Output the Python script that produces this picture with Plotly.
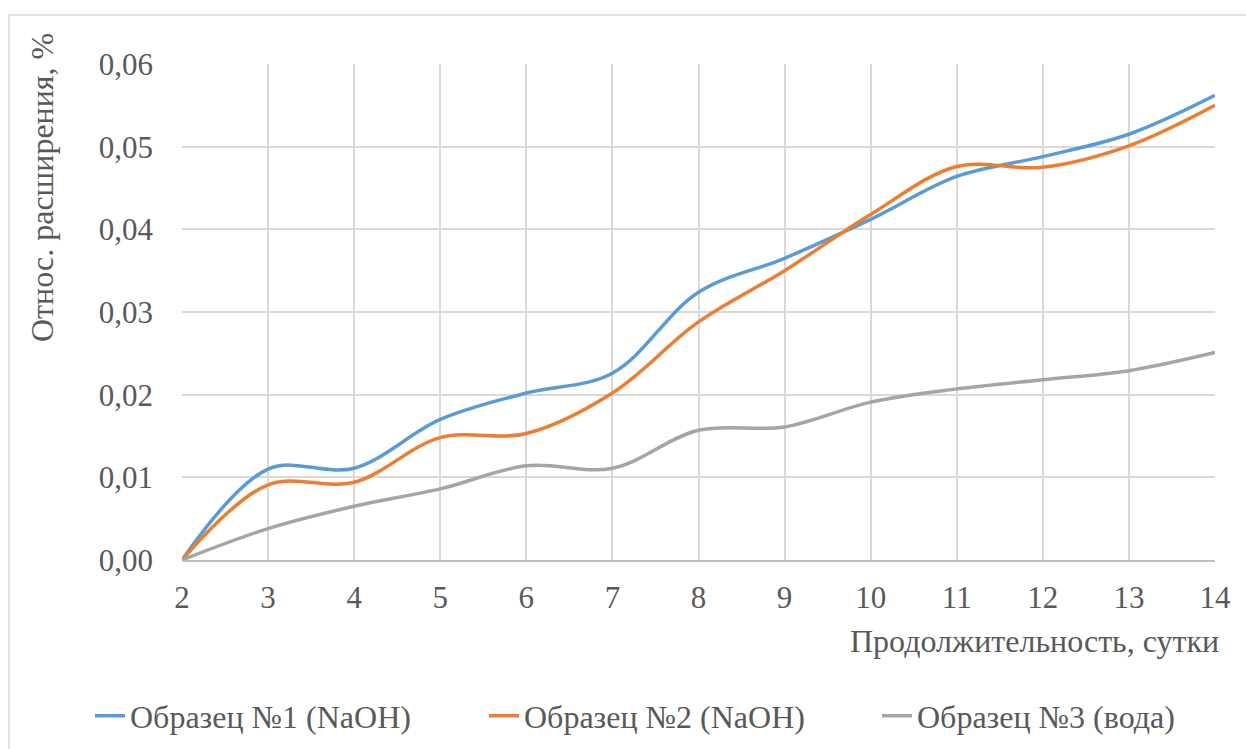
import plotly.graph_objects as go

# Duration, days
days = [2, 3, 4, 5, 6, 7, 8, 9, 10, 11, 12, 13, 14]

# Relative expansion, %
sample1_naoh = [0.0, 0.0110, 0.0111, 0.0170, 0.0202, 0.0226, 0.0324, 0.0365, 0.0412, 0.0464, 0.0488, 0.0515, 0.0562]
sample2_naoh = [0.0, 0.0091, 0.0094, 0.0148, 0.0153, 0.0202, 0.0288, 0.0350, 0.0418, 0.0476, 0.0475, 0.0501, 0.0550]
sample3_water = [0.0, 0.0038, 0.0065, 0.0086, 0.0114, 0.0111, 0.0157, 0.0161, 0.0191, 0.0207, 0.0218, 0.0229, 0.0251]

series_names = ["Образец №1 (NaOH)", "Образец №2 (NaOH)", "Образец №3 (вода)"]
series_colors = ["#5B9BD5", "#ED7D31", "#A5A5A5"]

y_ticks = [0.0, 0.01, 0.02, 0.03, 0.04, 0.05, 0.06]
y_tick_text = ["0,00", "0,01", "0,02", "0,03", "0,04", "0,05", "0,06"]

FONT = "Times New Roman"
TEXT_COLOR = "#595959"
TICK_FS = 31
LABEL_FS = 32


def txt_font(size):
    return dict(family=FONT, size=size, color=TEXT_COLOR)


W, H = 1246, 749
L, R, T, B = 182, 31, 64, 189
pw, ph = W - L - R, H - T - B

# each series gets its own legend box, laid out in one row under the chart
legend_ids = ["legend", "legend2", "legend3"]
legend_left_px = [90, 484, 877]

fig = go.Figure()
for name, vals, color, lg in zip(series_names, [sample1_naoh, sample2_naoh, sample3_water],
                                 series_colors, legend_ids):
    fig.add_trace(go.Scatter(
        x=days, y=vals, name=name, mode="lines", legend=lg,
        line=dict(color=color, width=3.5, shape="spline", smoothing=1.0),
    ))


def px(xp):
    return (xp - L) / pw


def py(yp):
    return (H - B - yp) / ph


def legend_box(left_px):
    return dict(
        orientation="h", xref="container", yref="container",
        x=left_px / W, xanchor="left", y=1 - 716 / H, yanchor="middle",
        font=txt_font(LABEL_FS), bgcolor="rgba(0,0,0,0)", itemwidth=30,
    )


fig.update_layout(
    width=W, height=H,
    margin=dict(l=L, r=R, t=T, b=B),
    paper_bgcolor="white", plot_bgcolor="white",
    showlegend=True,
    legend=legend_box(legend_left_px[0]),
    legend2=legend_box(legend_left_px[1]),
    legend3=legend_box(legend_left_px[2]),
    xaxis=dict(
        range=[2, 14], tickmode="array", tickvals=days,
        showgrid=True, gridcolor="#D9D9D9", gridwidth=1.5,
        showline=True, linecolor="#BFBFBF", linewidth=1.5,
        zeroline=False, ticks="", ticklabelstandoff=9,
        tickfont=txt_font(TICK_FS),
    ),
    yaxis=dict(
        range=[0, 0.06], tickmode="array", tickvals=y_ticks, ticktext=y_tick_text,
        showgrid=True, gridcolor="#D9D9D9", gridwidth=1.5,
        showline=False, zeroline=False, ticks="", ticklabelstandoff=28,
        tickfont=txt_font(TICK_FS),
    ),
    annotations=[
        dict(text="Продолжительность, сутки", xref="paper", yref="paper",
             x=px(1221), y=py(641), xanchor="right", yanchor="middle",
             showarrow=False, font=txt_font(LABEL_FS)),
        dict(text="Относ. расширения, %", xref="paper", yref="paper",
             x=px(42), y=py(188), xanchor="center", yanchor="middle", textangle=-90,
             showarrow=False, font=txt_font(LABEL_FS)),
    ],
    shapes=[
        dict(type="rect", xref="paper", yref="paper",
             x0=px(9), x1=px(1260), y0=py(760), y1=py(15),
             line=dict(color="#D9D9D9", width=1.5), layer="below"),
    ],
)

fig.write_html("out.html")
